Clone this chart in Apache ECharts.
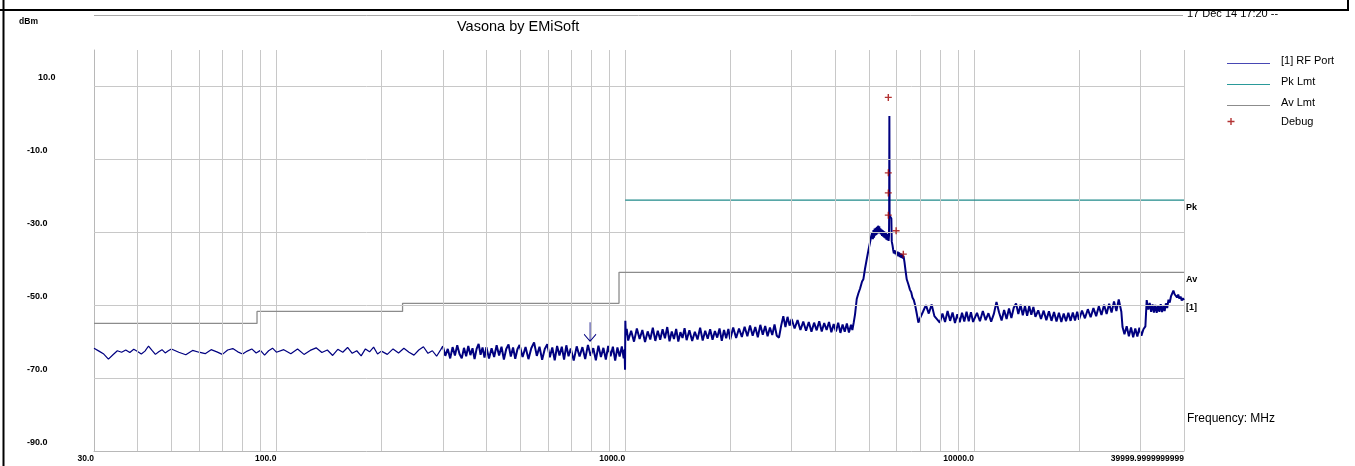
<!DOCTYPE html>
<html><head><meta charset="utf-8">
<script src="https://cdn.jsdelivr.net/npm/echarts@6/dist/echarts.min.js"></script>
<style>html,body{margin:0;padding:0;background:#fff;}#c{width:1355px;height:466px;}</style>
</head><body><div id="c"></div>
<script>
// ---------- data ----------
const xTickLabels = [[30,'30.0'],[100,'100.0'],[1000,'1000.0'],[10000,'10000.0'],[40000,'39999.9999999999']];
const yLabelValues = [-90,-70,-50,-30,-10,10];
const yGridValues = [-70,-50,-30,-10,10];
const minorGridFreq = [40,50,60,70,80,90,200,300,400,500,600,700,800,900,2000,3000,4000,5000,6000,7000,8000,9000,20000,30000];
const avLimit = [[30,-55.0],[88,-55.0],[88,-51.7],[230,-51.7],[230,-49.5],[960,-49.5],[960,-41.0],[40000,-41.0]];
const pkLimit = [[1000,-21.2],[40000,-21.2]];
const debugPoints = [[5680,7.0],[5680,-13.7],[5680,-19.2],[5680,-25.3],[5980,-29.6],[6271,-36.0]];
const arrowMarker = [793,-57.3];
// RF Port trace, 30 - 300 MHz (sparse part of the sweep)
const rfTraceLow = [
[30,-61.8],[31,-62.6],[32,-63.4],[33,-64.8],[34,-63.6],[35,-62.5],[36,-62.9],[37,-62.3],[38,-63.0],[39,-62.1],
[40,-62.7],[41,-63.4],[42,-62.6],[43,-61.2],[44,-62.4],[45,-63.5],[46,-62.8],[47,-62.2],[48,-63.1],[49,-62.5],[50,-62.0],
[52.5,-62.9],[55,-63.6],[57.5,-62.4],[60,-62.9],[62.5,-63.3],[65,-62.2],[67.5,-62.8],[70,-63.5],[72.5,-62.3],[75,-61.9],
[77.5,-62.8],[80,-63.4],[82.5,-62.6],[85,-62.0],[87.5,-63.1],[90,-62.4],[92.5,-63.7],[95,-62.5],[97.5,-61.8],[100,-62.9],
[105,-62.2],[110,-63.3],[115,-62.0],[120,-63.5],[125,-62.4],[130,-61.7],[135,-63.0],[140,-62.3],[145,-63.8],[150,-62.1],
[155,-62.9],[160,-61.6],[165,-63.2],[170,-62.5],[175,-63.9],[180,-62.0],[185,-62.8],[190,-61.5],[195,-63.4],[200,-62.6],
[208,-63.5],[216,-62.0],[224,-63.1],[232,-61.8],[240,-62.9],[248,-63.7],[256,-62.3],[264,-61.4],[272,-63.2],[280,-62.5],
[288,-64.0],[296,-62.2],[300,-61.2]
];
// RF Port trace, 300 - 40000 MHz (dense part of the sweep)
const rfTraceHigh = [
[300,-61.2],[305,-63.9],[310,-62.0],[315,-64.6],[320,-61.5],[325,-63.8],[330,-61.0],[335,-63.4],[340,-64.6],[345,-61.7],
[350,-64.0],[355,-61.2],[360,-63.7],[365,-61.8],[370,-64.8],[375,-62.0],[380,-60.6],[385,-63.6],[390,-61.6],[395,-64.4],
[400,-61.5],[407,-64.6],[414,-61.8],[421,-64.2],[428,-61.0],[435,-63.8],[442,-61.4],[449,-64.9],[456,-62.0],[463,-60.8],
[470,-64.1],[477,-61.6],[484,-64.7],[491,-62.1],[498,-60.9],[508,-64.2],[518,-61.5],[528,-64.8],[538,-61.8],[548,-60.2],
[558,-63.9],[568,-61.4],[578,-65.0],[588,-62.0],[598,-60.7],[608,-64.3],[618,-61.6],[628,-65.1],[638,-61.2],[648,-63.8],
[658,-61.4],[668,-64.9],[678,-61.0],[688,-64.0],[698,-61.9],[712,-65.2],[726,-61.3],[740,-64.1],[754,-61.5],[768,-64.8],
[782,-60.9],[796,-63.9],[810,-61.8],[824,-65.1],[838,-61.1],[852,-64.2],[866,-61.7],[880,-64.9],[894,-61.2],[908,-64.0],
[922,-61.4],[936,-65.2],[950,-61.6],[964,-64.1],[978,-61.3],[990,-64.6],[996,-62.2],[999,-67.7],[1001,-54.3],[1004,-58.2],
[1010,-56.5],[1020,-59.7],[1040,-57.0],[1060,-60.0],[1080,-56.4],[1100,-59.3],[1120,-56.8],[1140,-60.1],[1160,-57.2],[1180,-59.4],
[1200,-56.2],[1220,-59.8],[1240,-57.0],[1260,-59.5],[1280,-56.6],[1300,-59.1],[1320,-56.0],[1340,-59.9],[1360,-57.2],[1380,-59.3],
[1400,-56.5],[1420,-60.0],[1440,-57.4],[1460,-59.0],[1480,-56.3],[1500,-59.6],[1528,-56.9],[1556,-59.8],[1584,-57.3],[1612,-59.4],
[1640,-56.2],[1668,-59.7],[1696,-57.0],[1724,-59.2],[1752,-56.6],[1780,-59.5],[1808,-57.1],[1836,-58.9],[1864,-56.4],[1892,-59.8],
[1920,-56.8],[1948,-59.1],[1976,-56.5],[2000,-59.4],[2040,-56.1],[2080,-59.0],[2120,-56.4],[2160,-58.7],[2200,-55.9],[2240,-58.5],
[2280,-55.6],[2320,-58.4],[2360,-56.0],[2400,-58.8],[2440,-55.4],[2480,-58.1],[2520,-55.7],[2560,-58.5],[2600,-56.1],[2640,-58.2],
[2680,-55.3],[2720,-58.4],[2760,-58.9],[2800,-55.6],[2840,-53.0],[2880,-56.0],[2920,-53.2],[2960,-55.6],[3000,-53.8],[3060,-56.4],
[3120,-54.1],[3180,-56.8],[3240,-54.5],[3300,-57.0],[3360,-54.6],[3420,-57.3],[3480,-54.8],[3540,-56.9],[3600,-54.4],[3660,-57.2],
[3720,-54.9],[3780,-56.8],[3840,-54.6],[3900,-57.4],[3960,-55.2],[4020,-57.2],[4080,-54.8],[4140,-57.6],[4200,-55.3],[4260,-57.3],
[4320,-55.0],[4380,-57.5],[4440,-55.4],[4480,-56.8],
[4520,-54.8],[4560,-52.5],[4611,-48.3],[4660,-46.8],[4712,-45.5],[4776,-43.5],[4817,-42.9],[4870,-40.0],[4926,-37.4],[4980,-35.0],
[5033,-32.8],[5070,-31.2],[5108,-30.0],[5130,-31.9],[5150,-29.4],[5170,-31.5],[5190,-29.0],[5210,-30.9],[5230,-28.8],[5250,-30.7],
[5270,-28.5],[5290,-30.4],[5310,-28.2],[5330,-30.0],[5350,-28.4],[5370,-30.3],[5390,-28.9],[5410,-30.6],[5430,-29.2],[5450,-31.0],
[5470,-29.4],[5490,-31.2],[5510,-29.7],[5530,-31.5],[5550,-29.9],[5570,-31.7],[5590,-30.2],[5610,-32.0],[5630,-30.4],[5650,-32.2],
[5670,-30.8],[5690,-32.4],[5705,-31.0],[5712,-25.4],[5720,1.9],[5728,-25.4],[5760,-25.8],[5795,-26.2],[5810,-32.5],[5840,-33.6],
[5865,-34.8],[5890,-35.8],[5920,-34.9],[5950,-36.0],[5980,-35.2],[6010,-36.4],[6040,-35.3],[6070,-36.6],[6100,-35.5],[6130,-36.8],
[6160,-35.8],[6190,-37.0],[6220,-36.1],[6250,-37.2],[6280,-36.5],[6320,-38.2],[6360,-40.3],[6414,-42.9],[6480,-44.2],[6555,-45.8],
[6610,-46.5],[6660,-47.9],[6720,-48.6],[6776,-49.9],[6850,-52.2],[6926,-54.8],[7000,-53.6],
[7140,-51.8],[7280,-50.0],[7420,-52.3],[7560,-49.8],[7700,-53.0],[7840,-53.9],[7980,-54.8],[8120,-52.3],[8260,-54.6],[8400,-51.6],
[8540,-54.3],[8680,-52.0],[8820,-54.9],[8960,-52.5],[9100,-54.7],[9240,-52.1],[9380,-54.5],[9520,-51.8],[9660,-54.4],[9800,-51.9],
[9940,-54.6],[10200,-52.1],[10400,-54.4],[10600,-51.6],[10800,-54.1],[11000,-52.2],[11200,-54.5],[11400,-52.4],[11600,-49.1],[11800,-52.0],
[12000,-54.2],[12200,-51.3],[12400,-53.8],[12600,-50.9],[12800,-53.5],[13000,-50.7],[13200,-49.5],[13400,-52.4],[13600,-49.9],[13800,-52.8],
[14000,-50.2],[14200,-52.9],[14400,-50.3],[14600,-52.6],[14800,-50.5],[15000,-53.2],[15280,-51.4],[15560,-53.8],[15840,-51.5],[16120,-54.1],
[16400,-51.7],[16680,-54.3],[16960,-51.9],[17240,-54.5],[17520,-52.1],[17800,-54.6],[18080,-52.3],[18360,-54.4],[18640,-52.1],[18920,-54.3],
[19200,-52.0],[19480,-54.2],[19760,-51.8],[20000,-54.0],[20400,-51.5],[20800,-53.6],[21200,-51.1],[21600,-53.3],[22000,-50.8],[22400,-53.0],
[22800,-50.3],[23200,-52.7],[23600,-49.9],[24000,-52.4],[24400,-49.6],[24800,-52.0],[25200,-49.0],[25600,-51.6],[26000,-48.4],[26220,-47.9],
[26450,-51.8],[26660,-56.0],[27000,-58.0],[27400,-55.8],[27800,-58.5],[28200,-56.1],[28600,-58.8],[29000,-56.4],[29400,-58.6],[29800,-56.2],
[30200,-58.4],[30600,-56.6],[31000,-55.8],[31270,-48.6],[31600,-51.2],[31900,-49.4],[32200,-51.8],[32500,-49.8],[32800,-52.0],[33100,-49.9],
[33400,-52.1],[33700,-50.1],[34000,-51.8],[34300,-49.7],[34600,-51.9],[34900,-50.2],[35200,-51.6],[35500,-49.5],[35800,-50.8],[36100,-48.5],
[36400,-49.3],[36700,-47.6],[37000,-47.9],[37300,-46.0],[37600,-47.0],[37900,-46.5],[38200,-47.9],[38500,-47.1],[38800,-48.2],[39100,-47.6],
[39400,-48.7],[39700,-48.1],[40000,-48.6]
];

// ---------- chart ----------
const FONT = '"Liberation Sans", Arial, sans-serif';
const chart = echarts.init(document.getElementById('c'), null, {renderer: 'canvas'});
const plusPath = 'path://M2.8,0H4.2V7H2.8Z M0,2.8H7V4.2H0Z';
const legendLinePath = 'path://M0,0H0.01V0.01H0Z M0,6.5H43V7.5H0Z M0,8.99H0.01V9H0Z';

function xLabel(v) {
  let best = xTickLabels[0];
  for (const t of xTickLabels) if (Math.abs(Math.log10(t[0]) - Math.log10(v)) < Math.abs(Math.log10(best[0]) - Math.log10(v))) best = t;
  return best[1];
}
function yLabel(v) {
  const r = Math.round(v);
  if (yLabelValues.indexOf(r) < 0) return '';
  return r > 0 ? '{p|' + r.toFixed(1) + '}' : r.toFixed(1);
}
const lblStyle = {fontSize: 9, fontWeight: 'bold', color: '#000', fontFamily: FONT};

chart.setOption({
  animation: false,
  backgroundColor: '#fff',
  textStyle: {fontFamily: FONT},
  title: [
    {text: 'Vasona by EMiSoft', left: 457, top: 19, padding: 0, textStyle: {fontSize: 14.5, fontWeight: 'normal', color: '#000', fontFamily: FONT}},
    {text: '17 Dec 14 17:20 --', left: 1187, top: 8, padding: 0, textStyle: {fontSize: 11, fontWeight: 'normal', color: '#000', fontFamily: FONT}},
    {text: 'Frequency: MHz', left: 1187, top: 413, padding: 0, textStyle: {fontSize: 12, fontWeight: 'normal', color: '#000', fontFamily: FONT}}
  ],
  grid: {left: 94, right: 171, top: 50, bottom: 15, containLabel: false},
  legend: [
    {
      left: 1227, top: 55, padding: 0, orient: 'vertical', itemWidth: 43, itemHeight: 9, itemGap: 9,
      textStyle: {fontSize: 11, color: '#000', fontFamily: FONT, lineHeight: 12, padding: [0, 0, 0, 6]},
      data: [
        {name: '[1] RF Port', icon: legendLinePath},
        {name: 'Pk Lmt', icon: legendLinePath},
        {name: 'Av Lmt', icon: legendLinePath}
      ],
      selectedMode: false
    },
    {
      left: 1227.5, top: 115.5, padding: 0, orient: 'vertical', itemWidth: 7, itemHeight: 7,
      textStyle: {fontSize: 11, color: '#000', fontFamily: FONT, lineHeight: 12, padding: [0, 0, 0, 41.5]},
      data: [{name: 'Debug', icon: plusPath}],
      selectedMode: false
    }
  ],
  xAxis: {
    type: 'log', logBase: 10, min: 30, max: 40000,
    axisLine: {show: true, onZero: false, lineStyle: {color: '#b8b8b8', width: 1}},
    axisTick: {show: false},
    axisLabel: {
      show: true, fontSize: 8.5, fontWeight: 'bold', color: '#000', align: 'right', verticalAlign: 'top', margin: 3,
      showMinLabel: true, showMaxLabel: true, formatter: xLabel, fontFamily: FONT
    },
    splitLine: {show: true, showMinLine: false, showMaxLine: true, lineStyle: {color: '#c8c8c8', width: 1}}
  },
  yAxis: {
    type: 'value', min: -90, max: 20, interval: 10,
    name: 'dBm', nameLocation: 'end', nameGap: 28,
    nameTextStyle: {fontSize: 8.5, fontWeight: 'bold', color: '#000', align: 'right', verticalAlign: 'middle', padding: [0, 56, 0, 0], fontFamily: FONT},
    axisLine: {show: true, onZero: false, lineStyle: {color: '#b8b8b8', width: 1}},
    axisTick: {show: false},
    axisLabel: {
      fontSize: 9, fontWeight: 'bold', color: '#000', align: 'left', verticalAlign: 'bottom', margin: 67,
      padding: [0, 0, 4, 0], showMaxLabel: false, fontFamily: FONT,
      formatter: yLabel,
      rich: {p: {fontSize: 9, fontWeight: 'bold', color: '#000', fontFamily: FONT, padding: [0, 0, 0, 11]}}
    },
    splitLine: {show: false}
  },
  series: [
    {
      name: 'grid-lines', type: 'line', data: [], silent: true, z: 1,
      markLine: {
        silent: true, symbol: 'none', animation: false,
        label: {show: false},
        lineStyle: {color: '#c8c8c8', type: 'solid', width: 1},
        emphasis: {disabled: true},
        data: minorGridFreq.map(f => ({xAxis: f})).concat(yGridValues.map(v => ({yAxis: v})))
      }
    },
    {
      name: 'Av Lmt', type: 'line', data: avLimit, showSymbol: false, z: 3,
      lineStyle: {color: '#8c8c8c', width: 1.3}, itemStyle: {color: '#8c8c8c'},
      endLabel: Object.assign({show: true, formatter: 'Av', distance: 2, offset: [0, 7]}, lblStyle)
    },
    {
      name: 'Pk Lmt', type: 'line', data: pkLimit, showSymbol: false, z: 3,
      lineStyle: {color: '#1f8a8a', width: 1.3}, itemStyle: {color: '#2a9a9a'},
      endLabel: Object.assign({show: true, formatter: 'Pk', distance: 2, offset: [0, 7]}, lblStyle)
    },
    {
      name: '[1] RF Port', type: 'line', data: rfTraceLow, showSymbol: false, z: 4,
      lineStyle: {color: '#000080', width: 1.2}, itemStyle: {color: '#4848b4'}
    },
    {
      name: '[1] RF Port', type: 'line', data: rfTraceHigh, showSymbol: false, z: 4,
      lineStyle: {color: '#000080', width: 2}, itemStyle: {color: '#4848b4'},
      endLabel: Object.assign({show: true, formatter: '[1]', distance: 2, offset: [0, 7]}, lblStyle),
      markPoint: {
        silent: true, animation: false,
        symbol: 'path://M6,0V19M0,12L6,19L12,12', symbolSize: [12, 19],
        itemStyle: {color: 'none', borderColor: '#000080', borderWidth: 1},
        label: {show: false},
        data: [{coord: arrowMarker}]
      }
    },
    {
      name: 'Debug', type: 'scatter', data: debugPoints, z: 5,
      symbol: plusPath, symbolSize: 7, itemStyle: {color: '#a00000'}
    }
  ],
  graphic: [
    {type: 'line', shape: {x1: 0, y1: 10, x2: 1349, y2: 10}, style: {stroke: '#000', lineWidth: 2}, silent: true},
    {type: 'line', shape: {x1: 1348, y1: 0, x2: 1348, y2: 10}, style: {stroke: '#000', lineWidth: 2}, silent: true},
    {type: 'line', shape: {x1: 3.5, y1: 0, x2: 3.5, y2: 466}, style: {stroke: '#000', lineWidth: 2}, silent: true},
    {type: 'line', shape: {x1: 94, y1: 15.5, x2: 1183, y2: 15.5}, style: {stroke: '#a8a8a8', lineWidth: 1}, silent: true}
  ]
});
</script></body></html>
